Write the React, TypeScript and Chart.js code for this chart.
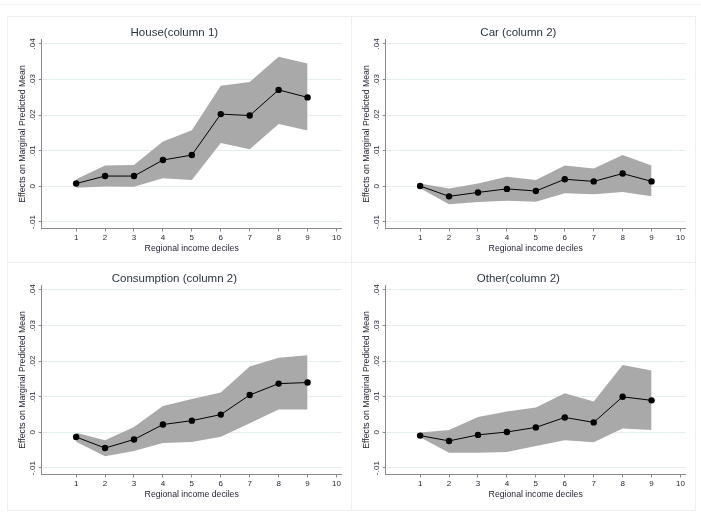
import React, { useEffect, useRef } from "react";
import { Chart, registerables } from "chart.js";

Chart.register(...registerables);

// ---------- data ----------
const deciles = [1, 2, 3, 4, 5, 6, 7, 8, 9];
const xTickValues = [1, 2, 3, 4, 5, 6, 7, 8, 9, 10];
const yTickValues = [-0.01, 0, 0.01, 0.02, 0.03, 0.04];
const yTickLabels = ["-.01", "0", ".01", ".02", ".03", ".04"];

const panelTitles = ["House(column 1)", "Car (column 2)", "Consumption (column 2)", "Other(column 2)"];
const xAxisTitle = "Regional income deciles";
const yAxisTitle = "Effects on Marginal Predicted Mean";

const houseEst = [0.0008, 0.0029, 0.0029, 0.0074, 0.0088, 0.0203, 0.0199, 0.0271, 0.025];
const houseUpper = [0.002, 0.0059, 0.006, 0.0126, 0.0158, 0.0283, 0.0293, 0.0364, 0.0345];
const houseLower = [-0.0004, 0.0, -0.0001, 0.0023, 0.0018, 0.0122, 0.0104, 0.0175, 0.0157];

const carEst = [0.0001, -0.0028, -0.0017, -0.0007, -0.0013, 0.002, 0.0014, 0.0036, 0.0014];
const carUpper = [0.0008, -0.0006, 0.0008, 0.0027, 0.0018, 0.0059, 0.005, 0.0088, 0.0059];
const carLower = [-0.0005, -0.005, -0.0044, -0.004, -0.0043, -0.0019, -0.0022, -0.0016, -0.0028];

const consEst = [-0.0013, -0.0044, -0.002, 0.0022, 0.0033, 0.005, 0.0105, 0.0137, 0.014];
const consUpper = [-0.0001, -0.0022, 0.0015, 0.0074, 0.0094, 0.0112, 0.0185, 0.021, 0.0217];
const consLower = [-0.0026, -0.0067, -0.0052, -0.003, -0.0027, -0.0012, 0.0026, 0.0064, 0.0064];

const otherEst = [-0.0009, -0.0024, -0.0007, 0.0001, 0.0014, 0.0042, 0.0028, 0.01, 0.009];
const otherUpper = [0.0, 0.0007, 0.0043, 0.0059, 0.007, 0.011, 0.0087, 0.0189, 0.0174];
const otherLower = [-0.0014, -0.0057, -0.0057, -0.0055, -0.0038, -0.0022, -0.0028, 0.0011, 0.0007];

// ---------- styling ----------
const FONT = "'Liberation Sans', Arial, Helvetica, sans-serif";
const CW = 344;
const CH = 246;
const TEXT = "#262638";
const AXIS = "#8a8a8a";
const GRID = "#e4edef";
const BAND = "#a9a9a9";

type PanelProps = {
  title: string;
  est: number[];
  upper: number[];
  lower: number[];
  left: number;
  top: number;
};

function Panel({ title, est, upper, lower, left, top }: PanelProps) {
  const ref = useRef<HTMLCanvasElement>(null);

  useEffect(() => {
    if (!ref.current) return;
    const toPts = (arr: number[]) => arr.map((y, i) => ({ x: deciles[i], y }));

    const yLabelPlugin = {
      id: "yRotatedLabels",
      afterDraw(chart: any) {
        const ctx = chart.ctx;
        const ys = chart.scales.y;
        ctx.save();
        ctx.font = `8px ${FONT}`;
        ctx.fillStyle = TEXT;
        ctx.textAlign = "center";
        ctx.textBaseline = "middle";
        yTickValues.forEach((v, i) => {
          const py = ys.getPixelForValue(v);
          ctx.save();
          ctx.translate(ys.right - 8.5, py);
          ctx.rotate(-Math.PI / 2);
          ctx.fillText(yTickLabels[i], 0, 0);
          ctx.restore();
        });
        ctx.restore();
      },
    };

    const chart = new Chart(ref.current, {
      type: "line",
      data: {
        datasets: [
          {
            data: toPts(est),
            borderColor: "#000",
            borderWidth: 1,
            pointRadius: 3.2,
            pointBackgroundColor: "#000",
            pointBorderColor: "#000",
            pointBorderWidth: 0,
            fill: false,
            tension: 0,
          },
          {
            data: toPts(upper),
            borderWidth: 0,
            borderColor: "rgba(0,0,0,0)",
            pointRadius: 0,
            backgroundColor: BAND,
            fill: "+1",
            tension: 0,
          },
          {
            data: toPts(lower),
            borderWidth: 0,
            borderColor: "rgba(0,0,0,0)",
            pointRadius: 0,
            fill: false,
            tension: 0,
          },
        ],
      },
      options: {
        animation: false,
        responsive: false,
        devicePixelRatio: 1,
        layout: { padding: { left: 0, right: 9.3, top: 0, bottom: 0 } },
        plugins: {
          legend: { display: false },
          tooltip: { enabled: false },
          title: {
            display: true,
            text: title,
            font: { family: FONT, size: 11.5, weight: "normal" },
            color: "#2b3440",
            padding: { top: 9.7, bottom: 0 },
          },
        },
        scales: {
          x: {
            type: "linear",
            min: -0.19,
            max: 10.18,
            afterBuildTicks: (s: any) => {
              s.ticks = xTickValues.map((v) => ({ value: v }));
            },
            afterFit: (s: any) => {
              s.height = CH - 212.5;
            },
            grid: { drawOnChartArea: false, tickLength: 3, tickColor: AXIS },
            border: { display: true, color: AXIS, width: 1 },
            ticks: {
              padding: 1.5,
              autoSkip: false,
              maxRotation: 0,
              color: TEXT,
              font: { family: FONT, size: 8 },
              callback: (v: any) => String(v),
            },
            title: {
              display: true,
              text: xAxisTitle,
              color: TEXT,
              font: { family: FONT, size: 8.7 },
              padding: { top: 0, bottom: 8.6 },
            },
          },
          y: {
            type: "linear",
            min: -0.01183,
            max: 0.04126,
            afterBuildTicks: (s: any) => {
              s.ticks = yTickValues.map((v) => ({ value: v }));
            },
            afterFit: (s: any) => {
              s.width = 34.7;
            },
            grid: { color: GRID, lineWidth: 1, tickLength: 3, tickColor: AXIS },
            border: { display: true, color: AXIS, width: 1 },
            ticks: { display: false },
            title: {
              display: true,
              text: yAxisTitle,
              color: TEXT,
              font: { family: FONT, size: 8.7 },
              padding: { top: 10.8, bottom: 0 },
            },
          },
        },
      },
      plugins: [yLabelPlugin],
    } as any);

    return () => chart.destroy();
  }, [title, est, upper, lower]);

  return (
    <canvas
      ref={ref}
      width={CW}
      height={CH}
      style={{ position: "absolute", left, top, width: CW, height: CH }}
    />
  );
}

function Box({ left, top, width, height }: { left: number; top: number; width: number; height: number }) {
  return (
    <div
      style={{
        position: "absolute",
        left,
        top,
        width,
        height,
        border: "1px solid #edf0f1",
        boxSizing: "border-box",
      }}
    />
  );
}

export default function App() {
  return (
    <div
      style={{
        position: "fixed",
        left: 0,
        top: 0,
        width: 701,
        height: 519,
        background: "#ffffff",
        overflow: "hidden",
      }}
    >
      <div style={{ position: "absolute", left: 0, top: 4, width: 701, height: 1, background: "#f1f3f4" }} />
      <Box left={7} top={16} width={345} height={247} />
      <Box left={351} top={16} width={345} height={247} />
      <Box left={7} top={262} width={345} height={249} />
      <Box left={351} top={262} width={345} height={249} />
      <Panel title={panelTitles[0]} est={houseEst} upper={houseUpper} lower={houseLower} left={7} top={16} />
      <Panel title={panelTitles[1]} est={carEst} upper={carUpper} lower={carLower} left={351} top={16} />
      <Panel title={panelTitles[2]} est={consEst} upper={consUpper} lower={consLower} left={7} top={262} />
      <Panel title={panelTitles[3]} est={otherEst} upper={otherUpper} lower={otherLower} left={351} top={262} />
    </div>
  );
}
